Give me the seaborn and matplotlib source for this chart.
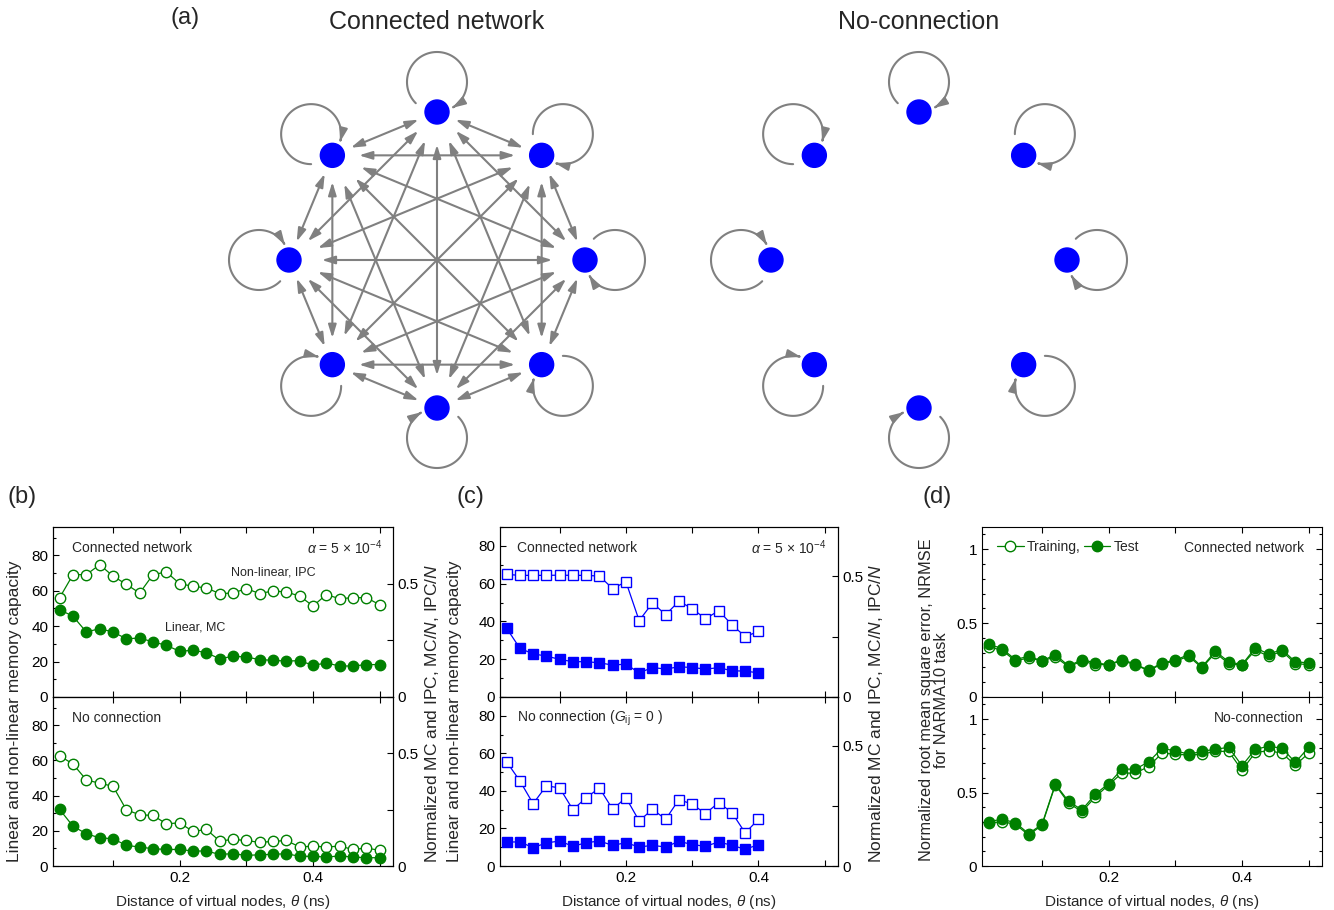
import numpy as np
import matplotlib
matplotlib.use("Agg")
import matplotlib.pyplot as plt
import seaborn as sns
from matplotlib.patches import Circle, FancyArrowPatch, ArrowStyle
from matplotlib.path import Path
from matplotlib.ticker import MultipleLocator, FixedLocator

# ------------------------------------------------------------------ data
theta_25 = [0.02, 0.04, 0.06, 0.08, 0.10, 0.12, 0.14, 0.16, 0.18, 0.20,
            0.22, 0.24, 0.26, 0.28, 0.30, 0.32, 0.34, 0.36, 0.38, 0.40,
            0.42, 0.44, 0.46, 0.48, 0.50]
theta_20 = [0.02, 0.04, 0.06, 0.08, 0.10, 0.12, 0.14, 0.16, 0.18, 0.20,
            0.22, 0.24, 0.26, 0.28, 0.30, 0.32, 0.34, 0.36, 0.38, 0.40]

# (b) connected network
b_conn_ipc = [56.1, 69.1, 69.1, 74.7, 68.3, 63.6, 58.7, 69.1, 70.6, 64.0,
              62.5, 61.6, 58.4, 58.7, 61.2, 58.4, 59.9, 59.3, 57.0, 51.4,
              57.8, 55.5, 56.1, 56.1, 52.1]
b_conn_mc = [49.3, 45.6, 36.7, 38.6, 36.7, 32.9, 33.3, 31.1, 29.2, 25.8,
             26.4, 25.0, 21.6, 23.0, 22.6, 21.1, 20.7, 20.3, 20.5, 17.9,
             19.2, 17.5, 17.5, 18.3, 18.3]
# (b) no connection
b_none_ipc = [62.6, 57.9, 48.9, 47.0, 45.3, 31.9, 29.1, 28.7, 24.0, 24.5,
              19.6, 20.8, 14.2, 15.1, 14.5, 13.4, 14.0, 14.5, 10.8, 11.3,
              10.8, 11.3, 9.4, 10.2, 8.9]
b_none_mc = [32.1, 22.6, 18.3, 16.0, 15.5, 11.7, 10.8, 9.8, 9.4, 9.4,
             8.5, 8.5, 6.6, 7.0, 6.0, 6.4, 6.6, 7.0, 5.5, 5.5,
             5.1, 5.7, 5.1, 4.7, 4.7]

# (c) connected network
c_conn_ipc = [64.9, 64.4, 64.4, 64.4, 64.5, 64.4, 64.4, 64.0, 57.4, 61.0,
              40.4, 49.8, 43.6, 50.7, 46.8, 41.4, 45.7, 38.2, 32.0, 34.7]
c_conn_mc = [36.4, 25.8, 22.8, 21.7, 19.9, 18.7, 18.7, 18.1, 16.9, 17.4,
             12.8, 15.6, 14.8, 16.0, 15.6, 14.8, 15.5, 13.9, 13.7, 12.8]
# (c) no connection
c_none_ipc = [55.5, 45.3, 33.2, 42.7, 41.6, 30.0, 36.3, 41.6, 30.2, 36.4,
              24.0, 30.2, 24.9, 35.4, 32.9, 27.9, 33.8, 28.4, 17.6, 24.9]
c_none_mc = [12.8, 12.8, 9.8, 12.3, 13.3, 10.5, 12.4, 13.3, 11.0, 12.4,
             10.1, 11.0, 10.1, 13.2, 11.4, 10.5, 12.8, 11.0, 8.9, 11.4]

# (d) NRMSE connected
d_conn_train = [0.339, 0.317, 0.244, 0.265, 0.244, 0.271, 0.204, 0.244, 0.219, 0.219,
                0.244, 0.219, 0.176, 0.226, 0.242, 0.276, 0.197, 0.299, 0.226, 0.215,
                0.317, 0.276, 0.310, 0.226, 0.219]
d_conn_test = [0.357, 0.328, 0.253, 0.276, 0.244, 0.287, 0.210, 0.253, 0.231, 0.219,
               0.253, 0.222, 0.181, 0.231, 0.249, 0.287, 0.204, 0.310, 0.238, 0.219,
               0.333, 0.290, 0.321, 0.238, 0.231]
# (d) NRMSE no connection
d_none_train = [0.291, 0.302, 0.284, 0.211, 0.277, 0.552, 0.427, 0.370, 0.470, 0.552,
                0.632, 0.632, 0.677, 0.768, 0.761, 0.755, 0.761, 0.780, 0.780, 0.652,
                0.773, 0.784, 0.768, 0.686, 0.768]
d_none_test = [0.302, 0.318, 0.295, 0.220, 0.284, 0.557, 0.439, 0.382, 0.489, 0.561,
               0.659, 0.659, 0.709, 0.800, 0.784, 0.761, 0.780, 0.795, 0.807, 0.682,
               0.795, 0.814, 0.802, 0.705, 0.807]

n_nodes = 8
n_virtual = 128  # normalisation of the right axis (MC/N, IPC/N)

# ------------------------------------------------------------------ style
sns.set_theme(style="ticks")
plt.rcParams['font.family'] = ['Liberation Sans', 'DejaVu Sans']
plt.rcParams['mathtext.fontset'] = 'custom'
plt.rcParams['mathtext.rm'] = 'Liberation Sans'
plt.rcParams['mathtext.it'] = 'Liberation Sans:italic'
plt.rcParams['mathtext.bf'] = 'Liberation Sans:bold'
plt.rcParams['axes.edgecolor'] = 'black'
plt.rcParams['xtick.color'] = 'black'
plt.rcParams['ytick.color'] = 'black'
plt.rcParams['axes.linewidth'] = 0.8

W, H = 1334, 910
fig = plt.figure(figsize=(W / 100, H / 100), dpi=100)

GREEN = '#008000'
BLUE = '#0000ff'
GRAY = '#808080'
TICK_FS = 11
LAB_FS = 11
YLAB_FS = 12.5
IN_FS = 10

# ------------------------------------------------------------------ (a) networks
ax_net = fig.add_axes([0, 0, 1, 1])
ax_net.set_xlim(0, W)
ax_net.set_ylim(0, H)
ax_net.axis('off')
ax_net.patch.set_alpha(0)

PT = 100 / 72.0  # pixels per point
R_NET = 148
NODE_R = 12
LOOP_R = 30


def draw_network(cx_px, cy_px, connected):
    cx, cy = cx_px, H - cy_px
    ang = np.deg2rad(90 - 45 * np.arange(n_nodes))
    xs = cx + R_NET * np.cos(ang)
    ys = cy + R_NET * np.sin(ang)
    if connected:
        for i in range(n_nodes):
            for j in range(i + 1, n_nodes):
                L = np.hypot(xs[j] - xs[i], ys[j] - ys[i])
                sh = (12 + 0.07 * L) / PT
                arr = FancyArrowPatch((xs[i], ys[i]), (xs[j], ys[j]),
                                      arrowstyle=ArrowStyle('<|-|>', head_length=0.65, head_width=0.2),
                                      mutation_scale=12, shrinkA=sh, shrinkB=sh,
                                      color=GRAY, lw=1.5, zorder=2)
                ax_net.add_patch(arr)
    for k in range(n_nodes):
        a = ang[k]
        ux, uy = np.cos(a), np.sin(a)
        lcx, lcy = xs[k] + LOOP_R * ux, ys[k] + LOOP_R * uy
        phi0 = a + np.pi
        t = np.linspace(phi0 - np.deg2rad(45), phi0 + np.deg2rad(30) - 2 * np.pi, 120)
        pts = np.column_stack([lcx + LOOP_R * np.cos(t), lcy + LOOP_R * np.sin(t)])
        codes = [Path.MOVETO] + [Path.LINETO] * (len(pts) - 1)
        loop = FancyArrowPatch(path=Path(pts, codes),
                               arrowstyle=ArrowStyle('-|>', head_length=0.65, head_width=0.2),
                               mutation_scale=12, color=GRAY, lw=1.5, zorder=2)
        ax_net.add_patch(loop)
        ax_net.add_patch(Circle((xs[k], ys[k]), NODE_R, color=BLUE, zorder=5))


draw_network(437, 260, True)
draw_network(919, 260, False)

fig.text(437 / W, 1 - 22 / H, 'Connected network', ha='center', va='center', fontsize=18)
fig.text(919 / W, 1 - 22 / H, 'No-connection', ha='center', va='center', fontsize=18)
fig.text(185 / W, 1 - 18 / H, '(a)', ha='center', va='center', fontsize=17)
fig.text(22 / W, 1 - 497 / H, '(b)', ha='center', va='center', fontsize=17)
fig.text(470 / W, 1 - 497 / H, '(c)', ha='center', va='center', fontsize=17)
fig.text(937 / W, 1 - 497 / H, '(d)', ha='center', va='center', fontsize=17)

# ------------------------------------------------------------------ axes helpers
TOP, MID, BOT = 527, 697, 866


def make_pair(left, right):
    w = (right - left) / W
    a_top = fig.add_axes([left / W, 1 - MID / H, w, (MID - TOP) / H])
    a_bot = fig.add_axes([left / W, 1 - BOT / H, w, (BOT - MID) / H])
    return a_top, a_bot


def style_x(ax, show_labels):
    ax.set_xlim(0.01, 0.52)
    ax.xaxis.set_major_locator(FixedLocator([0.2, 0.4]))
    ax.xaxis.set_minor_locator(FixedLocator([0.1, 0.3, 0.5]))
    ax.tick_params(axis='x', which='both', direction='in', top=True, bottom=True,
                   labelsize=TICK_FS, width=0.8, length=4)
    if show_labels:
        ax.set_xticklabels(['0.2', '0.4'])
        ax.set_xlabel(r'Distance of virtual nodes, $\theta$ (ns)', fontsize=LAB_FS, labelpad=6)
    else:
        ax.set_xticklabels([])
        ax.set_xlabel('')


def style_mc(ax, ymax):
    ax.set_ylim(0, ymax)
    ax.yaxis.set_major_locator(MultipleLocator(20))
    ax.yaxis.set_minor_locator(MultipleLocator(10))
    ax.tick_params(axis='y', which='both', direction='in', left=True, right=False,
                   labelsize=TICK_FS, width=0.8)
    ax.tick_params(axis='y', which='major', length=4)
    ax.tick_params(axis='y', which='minor', length=2.5)
    ax.set_ylabel('')
    tw = ax.twinx()
    tw.set_ylim(0, ymax / n_virtual)
    tw.yaxis.set_major_locator(FixedLocator([0, 0.5]))
    tw.yaxis.set_minor_locator(FixedLocator([0.25]))
    tw.set_yticklabels(['0', '0.5'])
    tw.tick_params(axis='y', which='both', direction='in', right=True, left=False,
                   labelsize=TICK_FS, width=0.8, length=4)
    for s in tw.spines.values():
        s.set_linewidth(0.8)
    return tw


def series(ax, x, y, marker, color, filled, label=None, ms=7.5):
    sns.lineplot(x=x, y=y, ax=ax, marker=marker, color=color, lw=0.9,
                 markersize=ms, markerfacecolor=(color if filled else 'white'),
                 markeredgecolor=color, markeredgewidth=1.0,
                 errorbar=None, label=label, legend=False)


# ------------------------------------------------------------------ (b)
bt, bb = make_pair(53, 393)
series(bt, theta_25, b_conn_ipc, 'o', GREEN, False)
series(bt, theta_25, b_conn_mc, 'o', GREEN, True)
series(bb, theta_25, b_none_ipc, 'o', GREEN, False)
series(bb, theta_25, b_none_mc, 'o', GREEN, True)
for ax, show in ((bt, False), (bb, True)):
    style_x(ax, show)
    style_mc(ax, 96)
bt.text(0.056, 0.876, 'Connected network', transform=bt.transAxes, fontsize=IN_FS, va='center')
bt.text(0.968, 0.88, r'$\alpha$ = 5 × 10$^{-4}$', transform=bt.transAxes, fontsize=IN_FS,
        va='center', ha='right')
bt.text(0.524, 0.73, 'Non-linear, IPC', transform=bt.transAxes, fontsize=9, va='center')
bt.text(0.33, 0.406, 'Linear, MC', transform=bt.transAxes, fontsize=9, va='center')
bb.text(0.056, 0.876, 'No connection', transform=bb.transAxes, fontsize=IN_FS, va='center')

# ------------------------------------------------------------------ (c)
ct, cb = make_pair(500, 838)
series(ct, theta_20, c_conn_ipc, 's', BLUE, False)
series(ct, theta_20, c_conn_mc, 's', BLUE, True)
series(cb, theta_20, c_none_ipc, 's', BLUE, False)
series(cb, theta_20, c_none_mc, 's', BLUE, True)
for ax, show in ((ct, False), (cb, True)):
    style_x(ax, show)
    style_mc(ax, 90)
ct.text(0.05, 0.876, 'Connected network', transform=ct.transAxes, fontsize=IN_FS, va='center')
ct.text(0.965, 0.88, r'$\alpha$ = 5 × 10$^{-4}$', transform=ct.transAxes, fontsize=IN_FS,
        va='center', ha='right')
cb.text(0.05, 0.876, r'No connection ($G_{\rm ij}$ = 0 )', transform=cb.transAxes,
        fontsize=IN_FS, va='center')

# ------------------------------------------------------------------ (d)
dt, db = make_pair(982, 1322)
series(dt, theta_25, d_conn_train, 'o', GREEN, False, label='Training,')
series(dt, theta_25, d_conn_test, 'o', GREEN, True, label='Test')
series(db, theta_25, d_none_train, 'o', GREEN, False)
series(db, theta_25, d_none_test, 'o', GREEN, True)
for ax, show in ((dt, False), (db, True)):
    style_x(ax, show)
    ax.set_ylim(0, 1.15)
    ax.yaxis.set_major_locator(FixedLocator([0, 0.5, 1]))
    ax.yaxis.set_minor_locator(MultipleLocator(0.1))
    ax.set_yticklabels(['0', '0.5', '1'])
    ax.tick_params(axis='y', which='both', direction='in', left=True, right=True,
                   labelsize=TICK_FS, width=0.8)
    ax.tick_params(axis='y', which='major', length=4)
    ax.tick_params(axis='y', which='minor', length=2.5)
    ax.set_ylabel('')
dt.legend(loc='upper left', bbox_to_anchor=(0.045, 0.925), ncol=2, frameon=False,
          fontsize=IN_FS, handlelength=1.9, handletextpad=0.25, columnspacing=0.2,
          borderpad=0, borderaxespad=0)
dt.text(0.947, 0.876, 'Connected network', transform=dt.transAxes, fontsize=IN_FS,
        va='center', ha='right')
db.text(0.947, 0.876, 'No-connection', transform=db.transAxes, fontsize=IN_FS,
        va='center', ha='right')

# ------------------------------------------------------------------ shared y labels
fig.text(15 / W, 1 - 711 / H, 'Linear and non-linear memory capacity', rotation=90,
         ha='center', va='center', fontsize=YLAB_FS)
fig.text(432 / W, 1 - 713 / H, r'Normalized MC and IPC, MC/$N$, IPC/$N$', rotation=90,
         ha='center', va='center', fontsize=YLAB_FS)
fig.text(455 / W, 1 - 711 / H, 'Linear and non-linear memory capacity', rotation=90,
         ha='center', va='center', fontsize=YLAB_FS)
fig.text(876 / W, 1 - 713 / H, r'Normalized MC and IPC, MC/$N$, IPC/$N$', rotation=90,
         ha='center', va='center', fontsize=YLAB_FS)
fig.text(934 / W, 1 - 700 / H, 'Normalized root mean square error, NRMSE\nfor NARMA10 task',
         rotation=90, ha='center', va='center', fontsize=11.8, linespacing=1.05,
         multialignment='center')

fig.savefig('out.png', dpi=100)
